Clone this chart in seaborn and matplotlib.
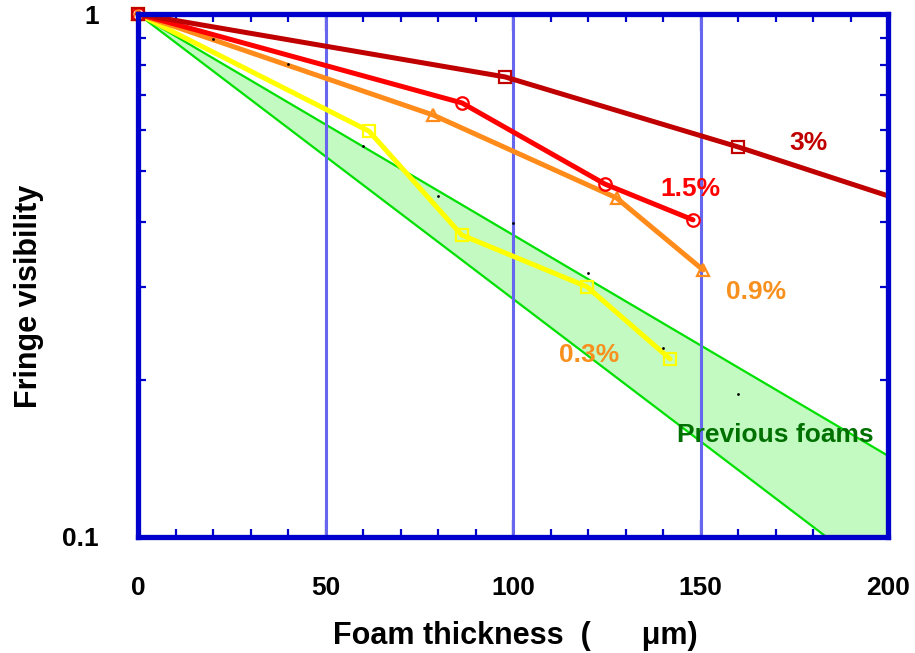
import matplotlib
matplotlib.use("Agg")
import matplotlib.pyplot as plt
import seaborn as sns
import numpy as np
import pandas as pd
from matplotlib.ticker import FixedLocator, NullFormatter

# ---- data ----
x_3 = [0, 97.9, 160.0, 200.0]
y_3 = [1.0, 0.758, 0.557, 0.449]
x_15 = [0, 86.4, 124.5, 148.0]
y_15 = [1.0, 0.676, 0.473, 0.404]
x_09 = [0, 78.7, 127.6, 150.7]
y_09 = [1.0, 0.641, 0.445, 0.324]
x_03 = [0, 61.6, 86.3, 119.7, 141.9]
y_03 = [1.0, 0.597, 0.378, 0.301, 0.219]

band_x = [0, 200]
band_upper = [1.0, 0.143]
band_lower = [1.0, 0.0814]

dots_x = [20, 40, 60, 80, 100, 120, 140, 160]
dots_y = [0.896, 0.802, 0.559, 0.449, 0.398, 0.320, 0.230, 0.188]

x_ticks = [0, 50, 100, 150, 200]
y_ticks = [0.1, 1]
y_tick_labels = ["0.1", "1"]

sns.set_theme(style="white")
plt.rcParams['font.family'] = ['Liberation Sans', 'DejaVu Sans']
plt.rcParams['font.weight'] = 'bold'
plt.rcParams['text.color'] = 'black'

fig = plt.figure(figsize=(9.15, 6.53), dpi=100)
ax = fig.add_axes([138/915, 1-537/653, 750/915, 523/653])

frame_col = "#0000CC"
# band
ax.fill_between(band_x, band_lower, band_upper, color="#c2fac2", zorder=1, linewidth=0)
sns.lineplot(x=band_x, y=band_upper, ax=ax, color="#00E000", linewidth=1.6, zorder=2)
sns.lineplot(x=band_x, y=band_lower, ax=ax, color="#00E000", linewidth=1.6, zorder=2)

# vertical grid lines
for xv in x_ticks[1:-1]:
    ax.axvline(xv, color="#6666EE", linewidth=2.2, zorder=3)

series = [
    (x_3, y_3, "#C00000", "s", [0, 1, 2]),
    (x_15, y_15, "#FF0000", "o", None),
    (x_09, y_09, "#FF8C1A", "^", None),
    (x_03, y_03, "#FFFF00", "s", None),
]
for xs, ys, col, mk, me in reversed(series):
    kw = dict(markevery=me) if me is not None else {}
    sns.lineplot(x=xs, y=ys, ax=ax, color=col, linewidth=3.6, marker=mk,
                 markersize=9, markerfacecolor="none", markeredgecolor=col,
                 markeredgewidth=1.6, zorder=5, clip_on=False, **kw)

sns.scatterplot(x=dots_x, y=dots_y, ax=ax, color="black", s=4, linewidth=0, zorder=6)

ax.set_yscale("log")
ax.set_xlim(0, 200)
ax.set_ylim(0.1, 1)

ax.set_xticks(x_ticks)
ax.set_xticklabels([str(v) for v in x_ticks])
ax.xaxis.set_minor_locator(FixedLocator([v for v in range(10, 200, 10) if v % 50 != 0]))
ax.yaxis.set_major_locator(FixedLocator(y_ticks))
ax.set_yticklabels(y_tick_labels)
ax.yaxis.set_minor_locator(FixedLocator([0.2, 0.3, 0.4, 0.5, 0.6, 0.7, 0.8, 0.9]))
ax.yaxis.set_minor_formatter(NullFormatter())

ax.tick_params(axis="both", which="both", direction="in", colors=frame_col,
               labelcolor="black", top=True, right=True, bottom=True, left=True)
ax.tick_params(axis="both", which="major", length=12, width=1.6, labelsize=19)
ax.tick_params(axis="both", which="minor", length=6, width=1.6)
ax.tick_params(axis="x", which="major", pad=28)
ax.tick_params(axis="y", which="major", pad=28)
for lab in ax.get_xticklabels() + ax.get_yticklabels():
    lab.set_fontweight("bold")

for sp in ax.spines.values():
    sp.set_color(frame_col)
    sp.set_linewidth(3.8)
    sp.set_zorder(7)

ax.set_xlabel("Foam thickness  (      μm)", fontsize=22, fontweight="bold", color="black")
ax.set_ylabel("Fringe visibility", fontsize=22, fontweight="bold", color="black")
ax.xaxis.set_label_coords(0.503, -0.160)
ax.yaxis.set_label_coords(-0.125, 0.461)

lab_size = 19
ax.text(178.7, 0.567, "3%", color="#C00000", fontsize=lab_size, fontweight="bold",
        ha="center", va="center", zorder=8)
ax.text(147.2, 0.462, "1.5%", color="#FF0000", fontsize=lab_size, fontweight="bold",
        ha="center", va="center", zorder=8)
ax.text(164.8, 0.294, "0.9%", color="#F7901E", fontsize=lab_size, fontweight="bold",
        ha="center", va="center", zorder=8)
ax.text(120.3, 0.223, "0.3%", color="#F7901E", fontsize=lab_size, fontweight="bold",
        ha="center", va="center", zorder=8)
ax.text(169.9, 0.157, "Previous foams", color="#007000", fontsize=lab_size, fontweight="bold",
        ha="center", va="center", zorder=8)

if ax.get_legend() is not None:
    ax.get_legend().remove()

fig.savefig("out.png", dpi=100)
